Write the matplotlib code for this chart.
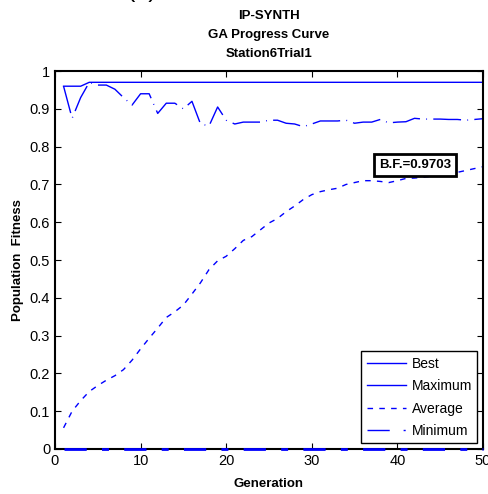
import matplotlib
matplotlib.use('Agg')
import matplotlib.pyplot as plt
from matplotlib.lines import Line2D

plt.rcParams['font.family'] = ['Liberation Sans', 'DejaVu Sans']

generations = list(range(1, 51))
best = [0.96, 0.96, 0.96] + [0.9703] * 47
maximum = [0.96, 0.875, 0.93, 0.97, 0.963, 0.963, 0.952, 0.93, 0.91, 0.94,
           0.94, 0.888, 0.915, 0.915, 0.9, 0.92, 0.86, 0.855, 0.905, 0.87,
           0.86, 0.865, 0.865, 0.865, 0.87, 0.87, 0.862, 0.86, 0.853, 0.86,
           0.868, 0.868, 0.868, 0.87, 0.862, 0.865, 0.865, 0.872, 0.863, 0.865,
           0.866, 0.875, 0.873, 0.873, 0.873, 0.872, 0.872, 0.87, 0.872, 0.874]
average = [0.056, 0.10, 0.128, 0.152, 0.168, 0.182, 0.194, 0.21, 0.235, 0.265,
           0.293, 0.32, 0.348, 0.363, 0.381, 0.41, 0.44, 0.475, 0.498, 0.51,
           0.53, 0.552, 0.562, 0.58, 0.598, 0.61, 0.628, 0.643, 0.66, 0.673,
           0.681, 0.686, 0.69, 0.70, 0.705, 0.71, 0.71, 0.708, 0.705, 0.71,
           0.716, 0.717, 0.719, 0.722, 0.725, 0.728, 0.732, 0.737, 0.742, 0.747]
minimum = [0.0] * 50
best_fitness = 0.9703

fig = plt.figure(figsize=(4.88, 4.94), dpi=100)
ax = fig.add_axes([0.1127, 0.0911, 0.877, 0.765])

ax.plot(generations, best, color='b', lw=1.0, label='Best')
ax.plot(generations, maximum, color='b', lw=1.0, linestyle=(0, (20, 4.5, 0.6, 4.5)))
ax.plot(generations, average, color='b', lw=1.0, linestyle=(0, (4, 4.5)))
# minimum sits on the x axis, draw it over the spine
ax.plot(generations, minimum, color='b', lw=2.0, linestyle=(0, (8, 5.5, 2.5, 5.5)),
        clip_on=False, zorder=3)

ax.set_xlim(0, 50)
ax.set_ylim(0, 1)
ax.set_xticks(range(0, 51, 10))
ax.set_yticks([i / 10 for i in range(11)])
ax.set_yticklabels(['0', '0.1', '0.2', '0.3', '0.4', '0.5', '0.6', '0.7', '0.8', '0.9', '1'])
ax.tick_params(direction='in', top=True, right=True, labelsize=10.5, length=4, width=0.8)
for s in ax.spines.values():
    s.set_linewidth(1.5)

ax.set_xlabel('Generation', fontsize=9.5, fontweight='bold', labelpad=7)
ax.set_ylabel('Population  Fitness', fontsize=9.5, fontweight='bold', labelpad=4)
ax.set_title('IP-SYNTH\nGA Progress Curve\nStation6Trial1', fontsize=9.5,
             fontweight='bold', linespacing=1.8, pad=10)

ax.text(42.1, 0.752, 'B.F.=%.4f' % best_fitness, fontsize=9.5, fontweight='bold',
        ha='center', va='center',
        bbox=dict(boxstyle='square,pad=0.38', fc='white', ec='black', lw=2))

handles = [Line2D([], [], color='b', lw=1.0),
           Line2D([], [], color='b', lw=1.0),
           Line2D([], [], color='b', lw=1.0, linestyle=(0, (4, 4.5))),
           Line2D([], [], color='b', lw=1.0, linestyle=(0, (16, 10, 1.5, 10)))]
leg = ax.legend(handles, ['Best', 'Maximum', 'Average', 'Minimum'], loc='lower right',
                fontsize=10, handlelength=2.8, labelspacing=0.6, borderaxespad=0.4,
                fancybox=False, framealpha=1, edgecolor='black', handletextpad=0.4)
leg.get_frame().set_linewidth(1.0)

fig.text(0.29, 1.006, '(a)', fontsize=18, ha='center', va='baseline')

fig.savefig('out.png', dpi=100)
